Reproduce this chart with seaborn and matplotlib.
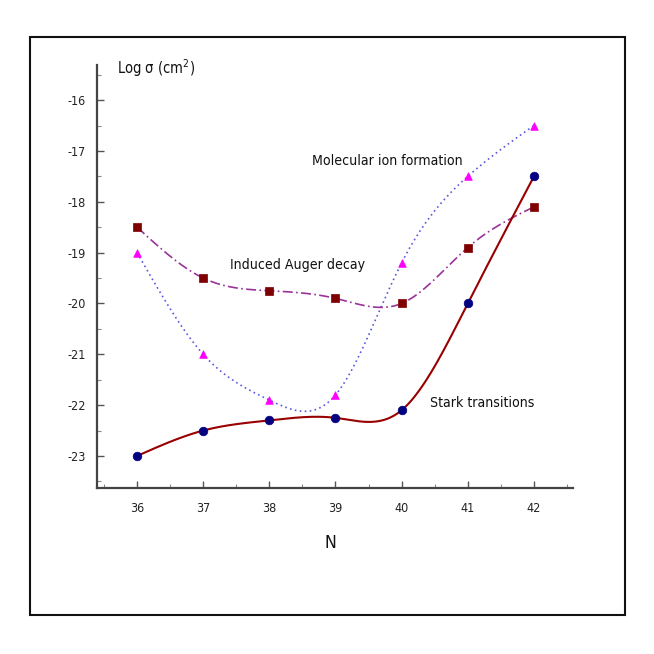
import numpy as np
import pandas as pd
import matplotlib
matplotlib.use("Agg")
import matplotlib.pyplot as plt
from matplotlib.patches import Rectangle
from matplotlib.ticker import MultipleLocator
from matplotlib import font_manager
import seaborn as sns

# ---- data ----
n_values = [36, 37, 38, 39, 40, 41, 42]
stark = [-23.0, -22.5, -22.3, -22.25, -22.1, -20.0, -17.5]
auger = [-18.5, -19.5, -19.75, -19.9, -20.0, -18.9, -18.1]
molecular = [-19.0, -21.0, -21.9, -21.8, -19.2, -17.5, -16.5]
x_ticks = [36, 37, 38, 39, 40, 41, 42]
y_ticks = [-23, -22, -21, -20, -19, -18, -17, -16]

sns.set_theme(style="white")

# pick a narrow font if available
entries = font_manager.fontManager.ttflist
names = {f.name for f in entries}
stretch = "normal"
if "Liberation Sans Narrow" in names:
    fam = ["Liberation Sans Narrow", "DejaVu Sans"]
elif any(f.name == "DejaVu Sans" and str(f.stretch) in ("condensed", "semi-condensed")
         for f in entries):
    fam = ["DejaVu Sans"]
    stretch = "condensed"
else:
    fam = ["Liberation Sans", "DejaVu Sans"]
plt.rcParams["font.family"] = fam
plt.rcParams["font.stretch"] = stretch
plt.rcParams["axes.unicode_minus"] = False
plt.rcParams["mathtext.fontset"] = "custom"
plt.rcParams["mathtext.rm"] = fam[0]
plt.rcParams["mathtext.it"] = fam[0]
narrow = stretch == "condensed" or fam[0] == "Liberation Sans Narrow"
lab_fs = 10.1 if narrow else 9.0
tick_fs = 9.0 if narrow else 8.0


def natural_spline(x, y, num=400):
    x = np.asarray(x, float)
    y = np.asarray(y, float)
    n = len(x)
    h = np.diff(x)
    A = np.zeros((n, n))
    b = np.zeros(n)
    A[0, 0] = 1
    A[-1, -1] = 1
    for i in range(1, n - 1):
        A[i, i - 1] = h[i - 1]
        A[i, i] = 2 * (h[i - 1] + h[i])
        A[i, i + 1] = h[i]
        b[i] = 6 * ((y[i + 1] - y[i]) / h[i] - (y[i] - y[i - 1]) / h[i - 1])
    M = np.linalg.solve(A, b)
    xs = np.linspace(x[0], x[-1], num)
    ys = np.empty_like(xs)
    for k, xv in enumerate(xs):
        i = min(np.searchsorted(x, xv, side="right") - 1, n - 2)
        t1 = x[i + 1] - xv
        t0 = xv - x[i]
        ys[k] = (M[i] * t1 ** 3 / (6 * h[i]) + M[i + 1] * t0 ** 3 / (6 * h[i])
                 + (y[i] / h[i] - M[i] * h[i] / 6) * t1
                 + (y[i + 1] / h[i] - M[i + 1] * h[i] / 6) * t0)
    return xs, ys


fig = plt.figure(figsize=(6.54, 6.54), dpi=100)
fig.patch.set_facecolor("white")
ax = fig.add_axes([97 / 654, 1 - 488 / 654, (573 - 97) / 654, (488 - 65) / 654])
ax.set_facecolor("white")

series = [
    (molecular, "#5a5ae0", (0, (1, 2)), 1.2, "^", "#ff00ff", 5.5),
    (auger, "#993399", (0, (6, 2, 1, 2)), 1.2, "s", "#7f0000", 6.2),
    (stark, "#990000", "-", 1.5, "o", "#000080", 6.2),
]
for vals, lc, ls, lw, mk, mc, ms in series:
    xs, ys = natural_spline(n_values, vals)
    sns.lineplot(x=xs, y=ys, ax=ax, color=lc, linestyle=ls, linewidth=lw,
                 sort=False, estimator=None)
    sns.scatterplot(x=n_values, y=vals, ax=ax, marker=mk, color=mc,
                    s=ms ** 2, edgecolor=mc, linewidth=0.5, zorder=5)

ax.set_xlim(35.395, 42.59)
ax.set_ylim(-23.63, -15.31)
ax.set_xticks(x_ticks)
ax.set_yticks(y_ticks)
ax.xaxis.set_minor_locator(MultipleLocator(0.5))
ax.yaxis.set_minor_locator(MultipleLocator(0.5))
ax.tick_params(axis="both", which="major", direction="in", length=5,
               width=1, color="#555555", labelsize=tick_fs, labelcolor="#222222")
ax.tick_params(axis="both", which="minor", direction="in", length=3,
               width=0.8, color="#888888")
ax.tick_params(axis="x", pad=10)
ax.tick_params(axis="y", pad=8)
ax.tick_params(left=True, bottom=True, which="both")
for s in ["top", "right"]:
    ax.spines[s].set_visible(False)
for s in ["left", "bottom"]:
    ax.spines[s].set_color("#444444")
    ax.spines[s].set_linewidth(1.6)
ax.set_xlabel("")
ax.set_ylabel("")

ax.text(39.78, -17.2, "Molecular ion formation", ha="center", va="center",
        fontsize=lab_fs, color="#111111")
ax.text(38.42, -19.24, "Induced Auger decay", ha="center", va="center",
        fontsize=lab_fs, color="#111111")
ax.text(41.22, -21.96, "Stark transitions", ha="center", va="center",
        fontsize=lab_fs, color="#111111")

fig.text(117 / 654, 1 - 68 / 654, r"Log σ (cm$^{2}$)", ha="left", va="center",
         fontsize=lab_fs + 0.4, color="#111111")
fig.text(330 / 654, 1 - 543 / 654, "N", ha="center", va="center",
         fontsize=lab_fs + 2.5, color="#111111")

fig.patches.append(Rectangle((29.5 / 654, 1 - 615 / 654), (625 - 29.5) / 654,
                             (615 - 37) / 654, transform=fig.transFigure,
                             fill=False, edgecolor="#111111", linewidth=1.5))

fig.savefig("out.png", dpi=100, facecolor="white")
